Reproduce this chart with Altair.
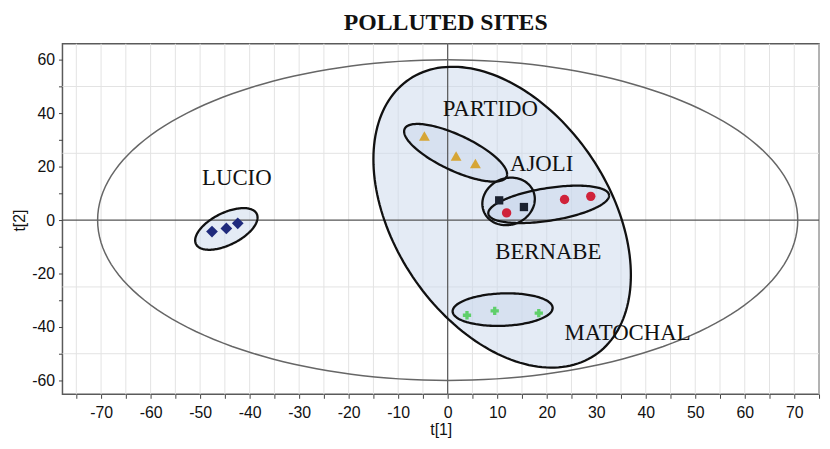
import numpy as np
import pandas as pd
import altair as alt

# ---- score values (t[1], t[2]) ----
lucio_x = [-47.6, -44.7, -42.4]
lucio_y = [-4.3, -3.1, -1.2]
partido_x = [-4.7, 1.7, 5.6]
partido_y = [31.5, 24.0, 21.2]
ajoli_x = [10.4, 15.4]
ajoli_y = [7.4, 4.9]
bernabe_x = [11.9, 23.6, 28.9]
bernabe_y = [2.7, 7.7, 8.9]
matochal_x = [3.9, 9.5, 18.4]
matochal_y = [-35.6, -34.0, -34.8]

# ---- ellipses: centre, half-extents, correlation ----
ell_names = ["Hotelling", "ALL", "LUCIO", "PARTIDO", "AJOLI", "BERNABE", "MATOCHAL"]
ell_cx = [0.0, 11.0, -44.7, 1.6, 12.3, 20.4, 11.1]
ell_cy = [0.0, 1.1, -3.3, 25.2, 7.0, 5.9, -33.5]
ell_sx = [70.7, 26.0, 6.3, 10.4, 5.3, 12.2, 10.1]
ell_sy = [60.0, 56.3, 7.8, 10.8, 8.9, 7.0, 6.1]
ell_rho = [0.0, -0.385, 0.55, -0.74, 0.1, 0.47, 0.1]
ell_filled = [False, True, True, True, True, True, True]

# ---- labels ----
lab_text = ["LUCIO", "PARTIDO", "AJOLI", "BERNABE", "MATOCHAL"]
lab_x = [-49.6, -1.0, 12.6, 9.6, 23.6]
lab_y = [15.6, 41.5, 21.1, -11.9, -42.4]

# ---- axes ----
x_domain = [-77.8, 75.0]
y_domain = [-65.2, 66.0]
x_ticks = list(range(-75, 76, 5))
y_ticks = list(range(-60, 61, 10))
x_grid = list(range(-75, 76, 5))
y_grid = [-50, -25, 25, 50]

groups = [
    ("LUCIO", lucio_x, lucio_y, "diamond", "#1f2a7c", 140),
    ("PARTIDO", partido_x, partido_y, "triangle-up", "#d6a535", 120),
    ("AJOLI", ajoli_x, ajoli_y, "square", "#1b2230", 70),
    ("BERNABE", bernabe_x, bernabe_y, "circle", "#d0223a", 90),
    ("MATOCHAL", matochal_x, matochal_y, "cross", "#5fcf6a", 70),
]

# outlines
rows = []
phi = np.linspace(0, 2 * np.pi, 181)
for n, cx, cy, sx, sy, r in zip(ell_names, ell_cx, ell_cy, ell_sx, ell_sy, ell_rho):
    s = np.sqrt(1 - r * r)
    for i, p in enumerate(phi):
        rows.append({"e": n, "i": i,
                     "x": cx + sx * np.cos(p),
                     "y": cy + sy * (r * np.cos(p) + s * np.sin(p))})
outline_df = pd.DataFrame(rows)

# fills
rows = []
ph = np.linspace(0, np.pi, 91)
for n, cx, cy, sx, sy, r, f in zip(ell_names, ell_cx, ell_cy, ell_sx, ell_sy, ell_rho, ell_filled):
    if not f:
        continue
    s = np.sqrt(1 - r * r)
    for p in ph:
        t = np.cos(p)
        q = np.sqrt(max(0.0, 1 - t * t))
        rows.append({"e": n, "x": cx + sx * t,
                     "y": cy + sy * (r * t + s * q),
                     "y2": cy + sy * (r * t - s * q)})
fill_df = pd.DataFrame(rows)

xs = alt.Scale(domain=x_domain, nice=False, zero=False)
ys = alt.Scale(domain=y_domain, nice=False, zero=False)
x_axis = alt.Axis(values=x_ticks, grid=False, domain=False, tickSize=4, tickColor="#444",
                  labelExpr="datum.value % 10 == 0 ? '' + datum.value : ''",
                  labelFont="Liberation Sans", labelFontSize=16, labelColor="#111",
                  labelPadding=6, titleFont="Liberation Sans", titleFontSize=16,
                  titleFontWeight="normal", titleColor="#111",
                  titleY=36, titleBaseline="middle")
y_axis = alt.Axis(values=y_ticks, grid=False, domain=False, tickSize=4, tickColor="#444",
                  labelExpr="datum.value % 20 == 0 ? '' + datum.value : ''",
                  labelFont="Liberation Sans", labelFontSize=16, labelColor="#111",
                  labelPadding=4, titleFont="Liberation Sans", titleFontSize=16,
                  titleFontWeight="normal", titleColor="#111",
                  titleX=-43, titleY=178, titleBaseline="middle")


def X(f):
    return alt.X(f, type="quantitative", scale=xs, axis=x_axis, title="t[1]")


def Y(f):
    return alt.Y(f, type="quantitative", scale=ys, axis=y_axis, title="t[2]")


vgrid = alt.Chart(pd.DataFrame({"v": x_grid})).mark_rule(color="#e3e3e3", strokeWidth=1).encode(x=X("v"))
hgrid = alt.Chart(pd.DataFrame({"h": y_grid})).mark_rule(color="#e3e3e3", strokeWidth=1).encode(y=Y("h"))

fills = alt.Chart(fill_df).mark_area(color="#c9d8ec", opacity=0.5).encode(
    x=X("x"), y=Y("y"), y2="y2", detail="e:N")

zero_v = alt.Chart(pd.DataFrame({"v": [0]})).mark_rule(color="#555", strokeWidth=1.2).encode(x=X("v"))
zero_h = alt.Chart(pd.DataFrame({"h": [0]})).mark_rule(color="#555", strokeWidth=1.2).encode(y=Y("h"))

hot = alt.Chart(outline_df[outline_df.e == "Hotelling"]).mark_line(
    color="#666", strokeWidth=1.5).encode(x=X("x"), y=Y("y"), order="i:Q", detail="e:N")
outl = alt.Chart(outline_df[outline_df.e != "Hotelling"]).mark_line(
    color="#111", strokeWidth=2.3).encode(x=X("x"), y=Y("y"), order="i:Q", detail="e:N")

layers = [vgrid, hgrid, fills, zero_v, zero_h, hot, outl]
for name, gx, gy, shape, col, size in groups:
    df = pd.DataFrame({"x": gx, "y": gy, "g": name})
    layers.append(alt.Chart(df).mark_point(shape=shape, filled=True, color=col, size=size, opacity=1,
                                           strokeWidth=0).encode(
        x=X("x"), y=Y("y")))

labels = alt.Chart(pd.DataFrame({"x": lab_x, "y": lab_y, "t": lab_text})).mark_text(
    font="Liberation Serif", fontSize=23, color="#111", align="left", baseline="middle").encode(
    x=X("x"), y=Y("y"), text="t:N")
layers.append(labels)

chart = alt.layer(*layers).properties(
    width=764, height=354,
    title=alt.TitleParams("POLLUTED SITES", font="Liberation Serif", fontSize=24,
                          fontWeight="bold", color="#111", offset=8, dx=5),
    autosize=alt.AutoSizeParams(type="none"),
    padding={"left": 55, "top": 34, "right": 3, "bottom": 45},
).configure_view(stroke="#5a5a5a", strokeWidth=1.5)

chart.save("out.html", embed_options={"renderer": "svg", "actions": False})
